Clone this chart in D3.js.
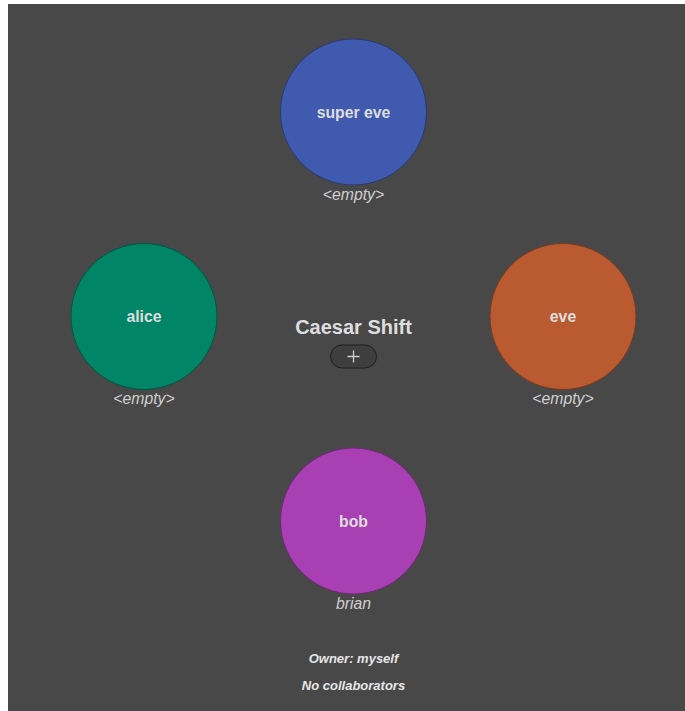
<!DOCTYPE html>
<html>
<head>
<meta charset="utf-8">
<script src="https://cdn.jsdelivr.net/npm/d3@7"></script>
<style>
    body { margin: 4px 0 0 8px; background: #fff; overflow: hidden; }
    svg { display: block; background: #484848; }
    text { font-family: "Liberation Sans", Arial, sans-serif; }
</style>
</head>
<body>
<script>
const title = 'Caesar Shift';
const roles = ['super eve', 'eve', 'bob', 'alice'];
const holders = ['<empty>', '<empty>', 'brian', '<empty>'];
const colors = ['#3f5aae', '#b95a30', '#a83fb3', '#008566'];
const footer = ['Owner: myself', 'No collaborators'];

const config = {
    width: 677,
    height: 707,
    cx: 345.5,
    cy: 312.5,
    ringX: 209.5,
    ringY: 204.5,
    r: 73,
};

const svg = d3.select('body')
    .append('svg')
    .attr('width', config.width)
    .attr('height', config.height);

const angle = d3.scaleLinear()
    .domain([0, roles.length])
    .range([-Math.PI / 2, Math.PI * 1.5]);

const seats = svg.selectAll('g.seat')
    .data(roles).enter()
    .append('g')
        .attr('class', 'seat')
        .attr('transform', (d, i) => {
            const a = angle(i);
            return `translate(${config.cx + config.ringX * Math.cos(a)},${config.cy + config.ringY * Math.sin(a)})`;
        });

seats.append('circle')
    .attr('r', config.r)
    .style('fill', (d, i) => colors[i])
    .style('stroke', (d, i) => d3.color(colors[i]).darker(1.2))
    .style('stroke-width', 1);

seats.append('text')
    .attr('text-anchor', 'middle')
    .attr('dy', '0.35em')
    .style('font-size', '15.8px')
    .style('font-weight', 'bold')
    .style('fill', '#dedede')
    .text(d => d);

seats.append('text')
    .attr('text-anchor', 'middle')
    .attr('y', config.r + 14.5)
    .style('font-size', '15.8px')
    .style('font-style', 'italic')
    .style('fill', '#cfcfcf')
    .text((d, i) => holders[i]);

// Centre: title and add button
svg.append('text')
    .attr('x', config.cx)
    .attr('y', config.cy + 17)
    .attr('text-anchor', 'middle')
    .style('font-size', '20px')
    .style('font-weight', 'bold')
    .style('fill', '#dedede')
    .text(title);

const btn = svg.append('g')
    .attr('transform', `translate(${config.cx},${config.cy + 40})`);

btn.append('rect')
    .attr('x', -23).attr('y', -11.5)
    .attr('width', 46).attr('height', 23)
    .attr('rx', 11.5)
    .style('fill', '#3e3e3e')
    .style('stroke', '#1e1e1e')
    .style('stroke-width', 1);

btn.append('path')
    .attr('d', 'M-6,0H6M0,-6V6')
    .style('stroke', '#cfcfcf')
    .style('stroke-width', 1.3);

svg.selectAll('text.footer')
    .data(footer).enter()
    .append('text')
        .attr('class', 'footer')
        .attr('x', config.cx)
        .attr('y', (d, i) => 659 + i * 27)
        .attr('text-anchor', 'middle')
        .style('font-size', '13px')
        .style('font-weight', 'bold')
        .style('font-style', 'italic')
        .style('fill', '#e6e6e6')
        .text(d => d);
</script>
</body>
</html>
